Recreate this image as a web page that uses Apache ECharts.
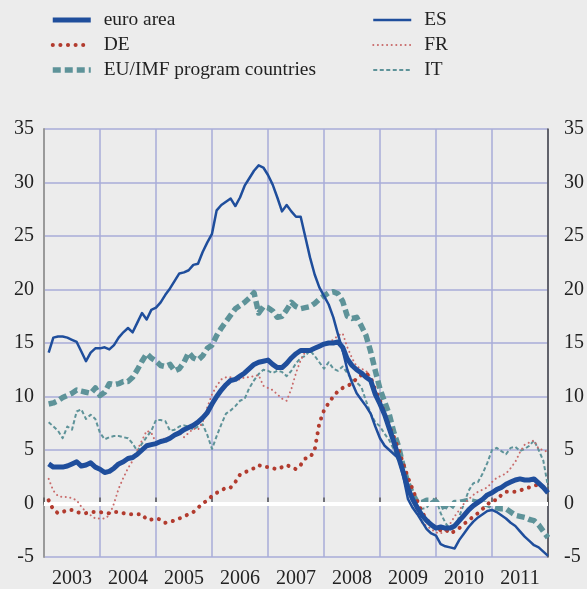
<!DOCTYPE html>
<html>
<head>
<meta charset="utf-8">
<script src="https://cdn.jsdelivr.net/npm/echarts@6/dist/echarts.min.js"></script>
<style>
html,body{margin:0;padding:0;background:#ececec;}
#chart{width:587px;height:589px;}
</style>
</head>
<body>
<div id="chart"></div>
<script>
// Tick labels / categories
const years = ['2003','2004','2005','2006','2007','2008','2009','2010','2011'];
const yTicks = [-5, 0, 5, 10, 15, 20, 25, 30, 35];
// Monthly observations: Feb 2003 .. Jan 2012 (108 months)
const startYear = 2003;
const nMonths = 108;

const euroArea = [3.7,3.4,3.4,3.4,3.5,3.7,3.9,3.5,3.6,3.8,3.4,3.2,
  2.9,3.0,3.3,3.7,3.9,4.2,4.3,4.6,5.0,5.4,5.5,5.6,
  5.8,5.9,6.1,6.4,6.6,6.9,7.1,7.3,7.6,8.0,8.5,9.3,
  10.0,10.6,11.1,11.5,11.6,11.9,12.2,12.6,13.0,13.2,13.3,13.4,
  13.0,12.7,12.7,13.1,13.6,14.0,14.3,14.3,14.3,14.5,14.7,14.9,
  15.0,15.0,15.1,14.6,13.5,12.9,12.5,12.2,11.8,11.5,10.2,9.3,
  8.3,7.0,5.7,4.3,2.9,1.4,0.4,-0.4,-1.1,-1.6,-2.0,-2.3,
  -2.2,-2.3,-2.3,-2.1,-1.6,-1.1,-0.6,-0.2,0.1,0.4,0.8,1.0,
  1.3,1.5,1.8,2.0,2.2,2.3,2.2,2.2,2.3,1.9,1.5,1.0];

const es = [14.1,15.5,15.6,15.6,15.5,15.3,15.1,14.2,13.3,14.1,14.5,14.5,
  14.6,14.4,14.8,15.5,16.0,16.4,16.0,16.9,17.8,17.2,18.1,18.3,
  18.8,19.5,20.1,20.8,21.5,21.6,21.8,22.3,22.4,23.5,24.4,25.2,
  27.4,27.9,28.2,28.5,27.8,28.6,29.7,30.4,31.1,31.6,31.4,30.7,
  29.8,28.6,27.3,27.9,27.3,26.8,26.8,24.9,23.0,21.4,20.2,19.4,
  18.6,17.4,15.8,14.3,12.5,11.3,10.3,9.7,9.1,8.4,7.2,6.1,
  5.4,5.0,4.6,4.2,2.5,0.4,-0.4,-1.0,-1.7,-2.4,-2.8,-3.0,
  -3.8,-4.0,-4.1,-4.2,-3.4,-2.8,-2.2,-1.7,-1.3,-1.0,-0.7,-0.6,
  -0.8,-1.1,-1.4,-1.8,-2.1,-2.6,-3.1,-3.5,-3.9,-4.1,-4.5,-4.9];

const de = [0.3,-0.6,-0.9,-0.8,-0.6,-0.6,-0.8,-0.9,-0.9,-0.8,-0.8,-0.8,
  -0.9,-0.9,-0.8,-0.8,-0.9,-1.0,-1.0,-1.0,-1.0,-1.5,-1.5,-1.4,
  -1.5,-1.8,-1.7,-1.6,-1.4,-1.2,-1.0,-0.8,-0.4,0.0,0.3,0.7,
  1.0,1.2,1.5,1.5,2.0,2.7,2.9,3.1,3.3,3.6,3.4,3.4,
  3.3,3.2,3.4,3.6,3.4,3.2,3.6,4.2,4.3,5.0,7.5,8.7,
  9.4,10.0,10.5,10.8,11.0,11.2,11.7,12.0,12.2,11.8,10.6,9.6,
  8.4,7.2,6.2,5.0,3.7,2.4,1.3,0.2,-0.8,-1.5,-2.0,-2.3,
  -2.5,-2.4,-2.8,-2.6,-2.3,-1.9,-1.6,-1.2,-0.9,-0.5,-0.1,0.3,
  0.3,0.8,1.1,1.1,1.1,1.2,1.4,1.5,1.7,1.7,1.5,1.1];

const fr = [2.3,1.2,0.7,0.6,0.6,0.5,0.3,-0.3,-0.8,-1.1,-1.4,-1.4,
  -1.4,-1.1,0.0,1.4,2.4,3.3,4.0,5.0,5.9,6.8,6.6,5.7,
  5.9,6.1,6.2,6.3,6.6,6.2,6.6,7.0,6.9,7.6,9.0,10.2,
  11.0,11.6,11.8,11.8,11.6,11.6,11.8,11.8,11.9,12.0,11.0,10.8,
  10.6,10.2,9.8,9.6,10.7,12.2,13.4,14.2,14.4,14.6,14.6,14.8,
  15.1,15.3,15.7,15.9,14.6,13.6,12.8,12.6,12.4,11.8,10.6,9.4,
  8.4,7.2,6.0,4.6,3.2,1.8,0.4,-0.8,-1.8,-2.1,-2.4,-2.7,
  -2.8,-2.5,-1.9,-1.2,-0.6,0.0,0.4,0.8,1.1,1.3,1.5,2.0,
  2.4,2.6,2.8,3.3,3.9,4.8,5.5,5.7,5.9,5.1,5.0,4.8];

const euImf = [9.3,9.4,9.6,9.9,10.1,10.3,10.6,10.5,10.4,10.3,10.8,10.1,
  10.4,11.2,11.1,11.2,11.4,11.4,11.8,12.5,13.3,14.0,13.6,13.3,
  12.9,12.8,13.0,12.4,12.6,13.2,14.1,13.6,13.4,13.8,14.5,14.8,
  15.7,16.4,17.0,17.6,18.2,18.5,18.8,19.2,19.7,17.8,18.4,18.3,
  18.0,17.4,17.5,18.1,18.8,18.4,18.2,18.3,18.4,18.7,19.1,19.4,
  19.7,19.8,19.6,18.9,17.5,17.3,17.4,16.6,15.7,14.2,12.4,10.7,
  9.5,8.3,6.6,5.3,3.4,1.9,0.9,0.1,0.1,0.3,0.3,0.2,
  -0.4,-0.2,-0.5,0.1,0.1,0.2,0.3,0.2,0.1,0.0,-0.1,-0.3,
  -0.4,-0.5,-0.5,-0.8,-1.1,-1.2,-1.3,-1.5,-1.6,-2.0,-2.6,-3.2];

const it = [7.6,7.2,6.8,6.1,7.2,6.9,8.6,8.8,7.9,8.3,7.9,6.6,
  6.0,6.2,6.3,6.3,6.2,6.1,5.6,4.9,5.6,6.2,6.8,7.8,
  7.8,7.7,6.8,6.9,7.2,7.3,7.2,6.9,7.2,7.4,6.4,5.1,
  6.3,7.4,8.4,8.7,9.1,9.6,9.8,10.8,11.5,12.1,12.5,12.4,
  12.2,12.4,12.3,11.9,12.4,13.1,13.6,13.8,14.3,13.8,13.2,12.6,
  13.2,12.6,12.4,12.8,12.2,11.6,11.3,10.9,9.6,8.4,7.6,7.2,
  6.5,5.9,5.0,3.9,3.0,1.3,0.5,-0.4,-0.5,-0.4,0.2,0.4,
  -0.9,-1.8,-2.4,-2.3,-1.2,0.0,1.2,1.9,2.0,2.8,3.8,5.0,
  5.2,4.9,4.6,5.2,5.3,4.9,5.1,5.4,5.9,5.0,4.0,1.6];

// x positions (decimal years) of the monthly observations
const monthX = [];
for (let i = 1; i <= nMonths; i++) monthX.push(startYear + i / 12);
const pairs = arr => monthX.map((x, i) => [x, arr[i]]);

const FONT = 'Liberation Serif';
const GRID_COLOR = '#a9acd9';
const BLUE = '#1f4e9c';
const RED = '#b23b2e';
const PINK = '#c96b6b';
const TEAL = '#5e9399';

const styles = {
  'euro area': { color: BLUE, width: 5, type: 'solid', cap: 'butt', z: 8 },
  'DE': { color: RED, width: 4, type: [0.1, 7.5], cap: 'round', z: 6 },
  'EU/IMF program countries': { color: TEAL, width: 5.5, type: [8, 4], cap: 'butt', z: 3 },
  'ES': { color: BLUE, width: 2.5, type: 'solid', cap: 'butt', z: 7 },
  'FR': { color: PINK, width: 2, type: [0.1, 4.5], cap: 'round', z: 5 },
  'IT': { color: TEAL, width: 2, type: [4, 2.5], cap: 'butt', z: 4 }
};

function mk(name, arr) {
  const s = styles[name];
  return {
    type: 'line', name: name, data: pairs(arr), symbol: 'none',
    lineStyle: { color: s.color, width: s.width, type: s.type, cap: s.cap, join: 'round' },
    itemStyle: { color: s.color }, z: s.z, silent: true, animation: false
  };
}
function legendItem(name) {
  const s = styles[name];
  return { name: name, lineStyle: { color: s.color, width: s.width, type: s.type, cap: s.cap } };
}

const chart = echarts.init(document.getElementById('chart'), null, { renderer: 'canvas' });
const legendText = { fontSize: 19.4, fontFamily: FONT, color: '#222', lineHeight: 20, padding: [0, 0, 0, 8] };
const legendCommon = { orient: 'vertical', top: 5, itemWidth: 38, itemHeight: 14, itemGap: 5,
  selectedMode: false, itemStyle: { opacity: 0 }, textStyle: legendText };
chart.setOption({
  backgroundColor: '#ececec',
  animation: false,
  grid: { left: 44, right: 34, top: 129, bottom: 32 },
  legend: [
    Object.assign({ data: ['euro area', 'DE', 'EU/IMF program countries'].map(legendItem), left: 45 }, legendCommon),
    Object.assign({ data: ['ES', 'FR', 'IT'].map(legendItem), left: 367 }, legendCommon)
  ],
  xAxis: [
    { type: 'value', min: startYear, max: startYear + years.length, interval: 1, position: 'bottom', offset: 4,
      axisLine: { show: true, lineStyle: { color: '#555', width: 1.5 } },
      axisTick: { show: true, inside: true, length: 6, lineStyle: { color: '#555', width: 1.5 } },
      axisLabel: { show: false },
      splitLine: { show: true, lineStyle: { color: GRID_COLOR, width: 1.5 } } },
    { type: 'category', data: years, position: 'bottom', boundaryGap: true,
      axisLine: { show: false }, axisTick: { show: false }, splitLine: { show: false },
      axisLabel: { margin: 12, fontSize: 20, fontFamily: FONT, color: '#222' } }
  ],
  yAxis: [
    { type: 'value', min: yTicks[0], max: yTicks[yTicks.length - 1], interval: 5, position: 'left',
      axisLine: { show: true, lineStyle: { color: '#9a9a9a', width: 2 } },
      axisTick: { show: false },
      axisLabel: { margin: 10, fontSize: 20, fontFamily: FONT, color: '#222' },
      splitLine: { show: true, lineStyle: { color: GRID_COLOR, width: 1.5 } } },
    { type: 'value', min: yTicks[0], max: yTicks[yTicks.length - 1], interval: 5, position: 'right',
      axisLine: { show: true, lineStyle: { color: '#444', width: 1.5 } },
      axisTick: { show: false },
      axisLabel: { margin: 16, fontSize: 20, fontFamily: FONT, color: '#222' },
      splitLine: { show: false } }
  ],
  series: [
    { type: 'line', name: 'zero', data: [], z: 1, silent: true,
      markLine: { silent: true, symbol: 'none', label: { show: false }, animation: false,
        lineStyle: { color: '#ffffff', width: 4, type: 'solid' }, data: [{ yAxis: 0 }] } },
    mk('EU/IMF program countries', euImf),
    mk('IT', it),
    mk('FR', fr),
    mk('DE', de),
    mk('ES', es),
    mk('euro area', euroArea)
  ]
});
</script>
</body>
</html>
